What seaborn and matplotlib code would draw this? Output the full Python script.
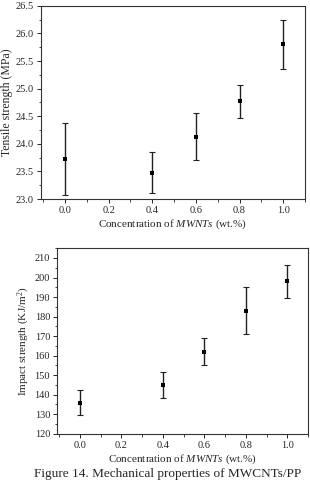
import numpy as np
import pandas as pd
import matplotlib
matplotlib.use("Agg")
import matplotlib.pyplot as plt
from matplotlib.ticker import MultipleLocator, FormatStrFormatter
import seaborn as sns

# datos
conc = [0.0, 0.4, 0.6, 0.8, 1.0]
tensile = [23.72, 23.48, 24.13, 24.77, 25.80]
tensile_err = [0.65, 0.37, 0.42, 0.30, 0.45]
impact = [136.0, 145.0, 162.0, 183.0, 198.0]
impact_err = [6.5, 6.5, 7.0, 12.0, 8.5]

sns.set_theme(style="ticks")
plt.rcParams['font.family'] = ['Liberation Serif', 'DejaVu Serif']
plt.rcParams['mathtext.fontset'] = 'custom'
plt.rcParams['mathtext.rm'] = 'Liberation Serif'
plt.rcParams['mathtext.it'] = 'Liberation Serif:italic'
plt.rcParams['xtick.labelsize'] = 7.5
plt.rcParams['ytick.labelsize'] = 7.5

fig = plt.figure(figsize=(3.10, 4.82), dpi=100)
ax1 = fig.add_axes([0.132, 0.587, 0.852, 0.401])
ax2 = fig.add_axes([0.184, 0.100, 0.810, 0.385])

datos1 = pd.DataFrame({'conc': conc, 'val': tensile})
datos2 = pd.DataFrame({'conc': conc, 'val': impact})

for ax, datos, err in [(ax1, datos1, tensile_err), (ax2, datos2, impact_err)]:
    ax.errorbar(datos['conc'], datos['val'], yerr=err, fmt='none',
                ecolor='#222222', elinewidth=1.0, capsize=2, capthick=0.8)
    sns.scatterplot(x='conc', y='val', data=datos, ax=ax, marker='s',
                    color='black', s=12, linewidth=0, zorder=3)
    ax.set_xlim(-0.11, 1.1)
    ax.xaxis.set_major_locator(MultipleLocator(0.2))
    ax.xaxis.set_minor_locator(MultipleLocator(0.1))
    ax.xaxis.set_major_formatter(FormatStrFormatter('%.1f'))
    ax.tick_params(which='major', length=3, width=0.7, pad=2)
    ax.tick_params(which='minor', length=1.8, width=0.6)
    for s in ax.spines.values():
        s.set_linewidth(0.8)
        s.set_color('#333333')
    ax.set_xlabel('Concentration of $\\mathit{MWNTs}$ (wt.%)', fontsize=8, labelpad=2)

ax1.set_ylim(23.0, 26.5)
ax1.yaxis.set_major_locator(MultipleLocator(0.5))
ax1.yaxis.set_minor_locator(MultipleLocator(0.25))
ax1.yaxis.set_major_formatter(FormatStrFormatter('%.1f'))
ax1.set_ylabel('Tensile strength (MPa)', fontsize=8.5, labelpad=2)

ax2.set_ylim(120, 215)
ax2.yaxis.set_major_locator(MultipleLocator(10))
ax2.yaxis.set_minor_locator(MultipleLocator(5))
ax2.set_ylabel('Impact strength (KJ/m$^2$)', fontsize=8, labelpad=2)

# pie de figura
fig.text(0.54, 0.004, 'Figure 14. Mechanical properties of MWCNTs/PP',
         ha='center', va='bottom', fontsize=9.5)

fig.savefig('out.png', dpi=100)
